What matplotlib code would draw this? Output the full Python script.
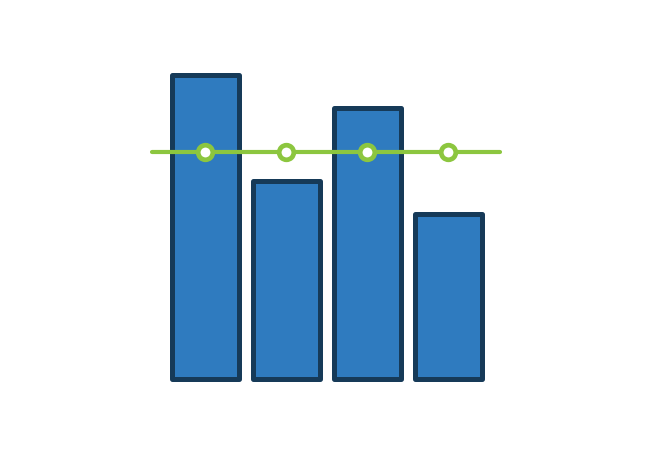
import numpy as np
import matplotlib
matplotlib.use("Agg")
import matplotlib.pyplot as plt

# data
categories = ["A", "B", "C", "D"]
bar_values = [92, 60, 82, 50]
line_values = [68.6, 68.6, 68.6, 68.6]

bar_color = "#2f7bbf"
edge_color = "#163a58"
line_color = "#8cc63f"

fig = plt.figure(figsize=(6.51, 4.5), dpi=100)
# y = 0 sits at 378.5 px from the top, 3.3 px per unit
ax = fig.add_axes([0, 71.5 / 450, 1, 330 / 450])
x = np.arange(len(categories))

bars = ax.bar(x, bar_values, width=0.815, color=bar_color,
              edgecolor=edge_color, linewidth=3.6, zorder=2)
for b in bars:
    b.set_joinstyle("round")
    b.set_clip_on(False)

# the line runs a bit beyond the first and last marker
xl = np.concatenate(([-0.66], x, [3.63]))
yl = np.concatenate(([line_values[0]], line_values, [line_values[-1]]))
ax.plot(xl, yl, color=line_color, linewidth=3.0, solid_capstyle="round",
        zorder=3)
ax.plot(x, line_values, linestyle="none", marker="o", markersize=10.5,
        markerfacecolor="white", markeredgecolor=line_color,
        markeredgewidth=3.4, zorder=4)

ax.set_xlim(-205.5 / 81, (651 - 205.5) / 81)
ax.set_ylim(0, 100)
ax.axis("off")

fig.savefig("out.png", dpi=100)
